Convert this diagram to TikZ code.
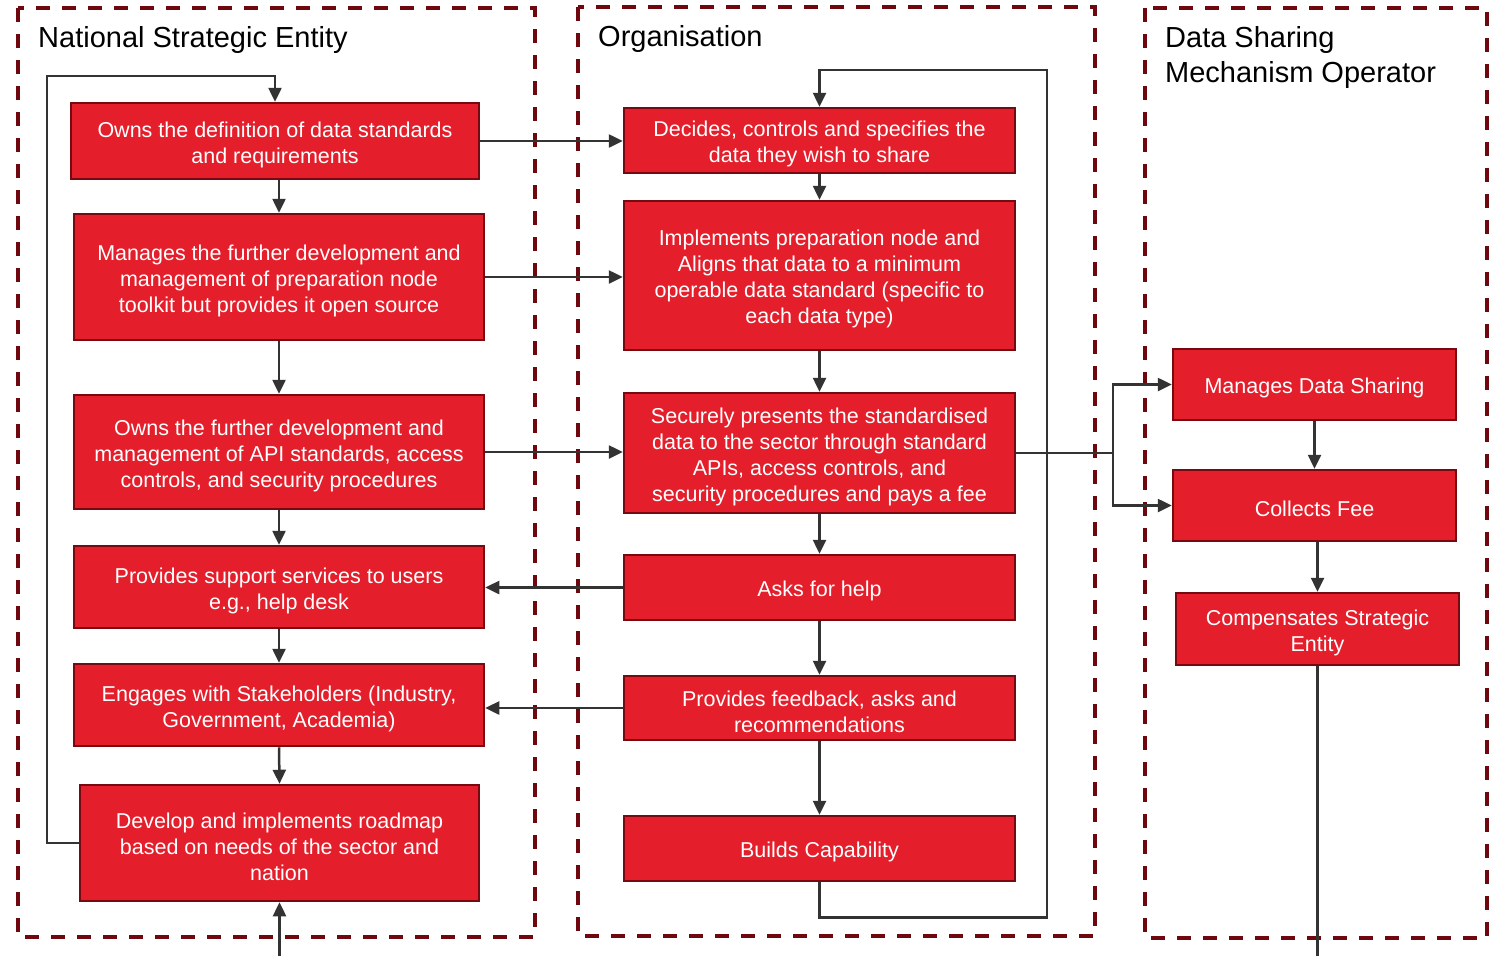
\documentclass[tikz,border=0pt]{standalone}
\usepackage{fontspec}
\setmainfont{Liberation Sans}
\usetikzlibrary{arrows.meta}
\definecolor{boxred}{RGB}{228,30,42}
\definecolor{boxedge}{RGB}{118,10,16}
\definecolor{frameedge}{RGB}{110,8,14}
\definecolor{wire}{RGB}{51,51,51}
\tikzset{
  rbox/.style={draw=boxedge, fill=boxred, line width=2.5pt, inner sep=0pt},
  boxtext/.style={text=white, align=center, inner sep=0pt, font=\fontsize{21.5}{26}\selectfont},
  frame/.style={draw=frameedge, line width=3.5pt, dash pattern=on 14pt off 12pt},
  title/.style={anchor=base west, inner sep=0pt, font=\fontsize{29}{35}\selectfont},
  arr/.style={draw=wire, line width=2.5pt, -{Triangle[length=14pt,width=13pt]}},
  wireline/.style={draw=wire, line width=2.5pt},
}
% box given by its corners: name, x1, y1, x2, y2, text
\newcommand{\rbox}[6]{%
  \node[rbox, minimum width={(#4-#2)*1pt}, minimum height={(#5-#3)*1pt}]
    (#1) at ({(#2+#4)/2},{(#3+#5)/2}) {};
  \node[boxtext] (#1t) at ([yshift=-3.5pt]#1.center) {#6};}
\begin{document}
\begin{tikzpicture}[x=1pt,y=-1pt]
\useasboundingbox (0,0) rectangle (1491,956);

% swimlane frames
\draw[frame] (18,8) rectangle (535,937);
\draw[frame] (578,7) rectangle (1095,936);
\draw[frame] (1145,8) rectangle (1487,938);

\node[title] (t1) at (38,47) {National Strategic Entity};
\node[title] (t2) at (598,46) {Organisation};
\node[title] (t3a) at (1165,47) {Data Sharing};
\node[title] (t3b) at (1165,82) {Mechanism Operator};

% National Strategic Entity
\rbox{B1}{71}{103}{479}{179}{Owns the definition of data standards\\and requirements}
\rbox{B2}{74}{214}{484}{340}{Manages the further development and\\management of preparation node\\toolkit but provides it open source}
\rbox{B3}{74}{395}{484}{509}{Owns the further development and\\management of API standards, access\\controls, and security procedures}
\rbox{B4}{74}{546}{484}{628}{Provides support services to users\\e.g., help desk}
\rbox{B5}{74}{664}{484}{746}{Engages with Stakeholders (Industry,\\Government, Academia)}
\rbox{B6}{80}{785}{479}{901}{Develop and implements roadmap\\based on needs of the sector and\\nation}

% Organisation
\rbox{C1}{624}{108}{1015}{173}{Decides, controls and specifies the\\data they wish to share}
\rbox{C2}{624}{201}{1015}{350}{Implements preparation node and\\Aligns that data to a minimum\\operable data standard (specific to\\each data type)}
\rbox{C3}{624}{393}{1015}{513}{Securely presents the standardised\\data to the sector through standard\\APIs, access controls, and\\security procedures and pays a fee}
\rbox{C4}{624}{555}{1015}{620}{Asks for help}
\rbox{C5}{624}{676}{1015}{740}{Provides feedback, asks and\\recommendations}
\rbox{C6}{624}{816}{1015}{881}{Builds Capability}

% Data Sharing Mechanism Operator
\rbox{D1}{1173}{349}{1456}{420}{Manages Data Sharing}
\rbox{D2}{1173}{470}{1456}{541}{Collects Fee}
\rbox{D3}{1176}{593}{1459}{665}{Compensates Strategic\\Entity}

% open ends at the bottom edge
\coordinate (inB) at (279.5,956);
\coordinate (outD) at (1317.5,956);
\coordinate (split) at (1113,453);

% left column flow
\draw[arr] (B2.north |- B1.south) -- (B2.north);
\draw[arr] (B2.south) -- (B3.north);
\draw[arr] (B3.south) -- (B4.north);
\draw[arr] (B4.south) -- (B5.north);
\draw[arr] (B5.south) -- (B6.north);
\draw[arr] (inB) -- (B6.south);
\draw[arr] (B6.west) -| (47,76) -| (B1.north);

% across to the organisation
\draw[arr] (B1.east) -- (B1.east -| C1.west);
\draw[arr] (B2.east) -- (B2.east -| C2.west);
\draw[arr] (B3.east) -- (B3.east -| C3.west);
\draw[arr] (C4.west) -- (C4.west -| B4.east);
\draw[arr] (C5.west) -- (C5.west -| B5.east);

% organisation flow
\draw[arr] (C1.south) -- (C2.north);
\draw[arr] (C2.south) -- (C3.north);
\draw[arr] (C3.south) -- (C4.north);
\draw[arr] (C4.south) -- (C5.north);
\draw[arr] (C5.south) -- (C6.north);
\draw[arr] (C6.south) -- ++(0,35) -| (1047,70) -| (C1.north);

% to the operator
\draw[wireline] (C3.east) -- (split);
\draw[arr] (split) |- (D1.west);
\draw[arr] (split) |- (D2.west);
\draw[arr] (D1.south) -- (D1.south |- D2.north);
\draw[arr] (D3.north |- D2.south) -- (D3.north);
\draw[wireline] (D3.south) -- (outD);
\end{tikzpicture}
\end{document}
